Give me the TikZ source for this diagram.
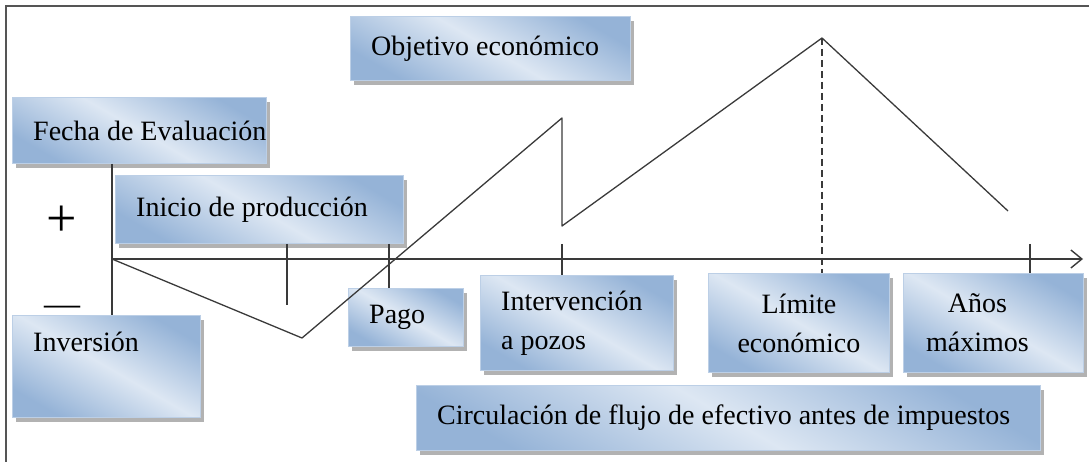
\documentclass[tikz,border=0pt]{standalone}
\usepackage{fontspec}
\setmainfont{Liberation Serif}
\usetikzlibrary{arrows.meta,shadows,positioning}
\definecolor{boxdark}{HTML}{95B3D7}
\definecolor{boxlight}{HTML}{DDE7F3}
\definecolor{boxedge}{HTML}{BCCFE6}
\definecolor{inkgray}{HTML}{3A3A3A}
\definecolor{framegray}{HTML}{555555}

\tikzset{
  infobox/.style={anchor=north west, draw=boxedge, line width=0.9pt, inner sep=0pt,
    top color=boxdark, bottom color=boxdark, middle color=boxlight, shading angle=-30,
    drop shadow={shadow xshift=3.5pt, shadow yshift=-4.5pt, fill=gray!60, opacity=1}},
  boxtext/.style={inner sep=0pt, align=left},
  lefttext/.style={boxtext, anchor=west, xshift=21pt},
  axisline/.style={draw=inkgray, line width=1.6pt},
  flowline/.style={draw=inkgray, line width=1.3pt, line join=round},
}

\begin{document}
\begin{tikzpicture}[x=1pt, y=-1pt, font=\fontsize{28}{39}\selectfont]
\useasboundingbox (0,0) rectangle (1089,462);

% frame
\draw[framegray, line width=2.4pt] (6,462) -- (6,6) -- (1089,6);

% key points of the cash flow
\coordinate (origin) at (112,259);
\coordinate (axisend) at (1083,259);
\coordinate (low) at (302,338);
\coordinate (peakone) at (562,118);
\coordinate (drop) at (562,226);
\coordinate (peaktwo) at (822,38);
\coordinate (tail) at (1008,211);
\coordinate (prodtick) at (287,305);
\coordinate (paytick) at (389,259);
\coordinate (maxtick) at (1030,259);

% boxes
\node[infobox, minimum width=254pt, minimum height=66pt,
      label={[lefttext]west:Fecha de Evaluación}] (fecha) at (12,97) {};
\node[infobox, minimum width=288pt, minimum height=68pt,
      label={[lefttext]west:Inicio de producción}] (inicio) at (115,175) {};
\node[infobox, minimum width=280pt, minimum height=64pt,
      label={[lefttext]west:Objetivo económico}] (objetivo) at (350,16) {};
\node[infobox, minimum width=188pt, minimum height=102pt,
      label={[lefttext, anchor=north west, yshift=-17pt]north west:Inversión}] (inversion) at (12,315) {};
\node[infobox, minimum width=115pt, minimum height=58pt,
      label={[lefttext]west:Pago}] (pago) at (348,288) {};
\node[infobox, minimum width=193pt, minimum height=95pt,
      label={[lefttext]west:Intervención\\a pozos}] (intervencion) at (480,275) {};
\node[infobox, minimum width=181pt, minimum height=99pt,
      label={[boxtext, align=center]center:Límite\\económico}] (limite) at (708,273) {};
\node[infobox, minimum width=180pt, minimum height=99pt,
      label={[boxtext, align=center, xshift=-16pt]center:Años\\máximos}] (anos) at (903,273) {};
\node[infobox, minimum width=624pt, minimum height=65pt,
      label={[lefttext]west:Circulación de flujo de efectivo antes de impuestos}] (circulacion) at (416,385) {};

% signs
\node[font=\fontsize{54}{54}\selectfont, inner sep=0pt] (plus) at (62,221) {+};
\node[font=\fontsize{36}{36}\selectfont, inner sep=0pt] (minus) at (62,311) {—};

% axes and ticks
\draw[axisline] (origin |- fecha.south) -- (origin |- inversion.north);
\draw[axisline, -{Straight Barb[length=11pt, width=18pt, line width=1.4pt]}] (origin) -- (axisend);
\draw[axisline] (prodtick |- inicio.south) -- (prodtick);
\draw[axisline] (paytick |- inicio.south) -- (paytick |- pago.north);
\draw[axisline] (peakone |- inicio.south) -- (peakone |- intervencion.north);
\draw[axisline] (maxtick |- inicio.south) -- (maxtick |- anos.north);
\draw[axisline, dash pattern=on 7pt off 4pt] (peaktwo) -- (peaktwo |- limite.north);

% cash flow curve
\draw[flowline] (origin) -- (low) -- (peakone) -- (drop) -- (peaktwo) -- (tail);
\end{tikzpicture}
\end{document}
